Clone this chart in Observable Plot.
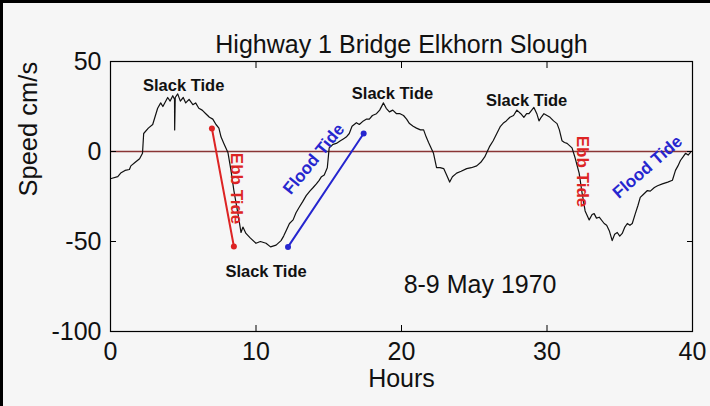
<!DOCTYPE html>
<html>
<head>
<meta charset="utf-8">
<script src="https://cdn.jsdelivr.net/npm/d3@7"></script>
<script src="https://cdn.jsdelivr.net/npm/@observablehq/plot@0.6"></script>
<style>
  html, body { margin: 0; padding: 0; background: #f6f6f6; overflow: hidden; width: 100%; height: 100%; }
  #wrap { position: fixed; left: 0; top: 0; right: 0; bottom: 0; overflow: hidden; background: #f6f6f6; }
  #wrap svg { display: block; position: absolute; left: 0; top: 0; }
  #border { position: absolute; left: 0; top: 0; right: 0; bottom: 0; box-sizing: border-box;
            border-left: 3px solid #000; border-top: 3px solid #000; pointer-events: none; }
</style>
</head>
<body>
<div id="wrap"><div id="border"></div></div>
<script>
// ---- Data ----
const hours = [0.05,0.5,0.7,1.0,1.3,1.4,1.7,2.0,2.2,2.28,2.6,2.9,3.24,3.45,3.6,3.93,4.1,4.28,4.4,4.41,4.45,4.62,4.8,5.0,5.17,5.4,5.66,5.85,6.07,6.3,6.55,6.8,7.03,7.25,7.45,7.6,7.79,8.07,8.28,8.48,8.76,8.97,9.1,9.31,9.6,10.0,10.3,10.69,11.0,11.38,11.72,11.9,12.07,12.3,12.55,12.75,12.97,13.2,13.45,13.7,13.93,14.15,14.34,14.5,14.69,14.9,15.03,15.3,15.52,15.8,16.0,16.2,16.41,16.6,16.9,17.1,17.38,17.6,17.79,18.0,18.28,18.5,18.76,18.95,19.17,19.4,19.66,19.9,20.14,20.35,20.55,20.8,21.03,21.3,21.52,21.7,21.86,22.2,22.41,22.65,22.9,23.1,23.31,23.5,23.79,24.1,24.48,24.8,25.17,25.45,25.72,26.07,26.3,26.55,26.8,27.03,27.2,27.45,27.7,27.93,28.2,28.41,28.6,28.76,28.95,29.1,29.3,29.45,29.6,29.79,30.0,30.21,30.45,30.69,30.85,31.03,31.2,31.38,31.72,31.93,32.21,32.41,32.62,32.9,33.1,33.24,33.4,33.59,33.93,34.1,34.28,34.48,34.65,34.83,35.0,35.17,35.35,35.52,35.7,35.86,36.07,36.25,36.41,36.6,36.9,37.1,37.38,37.6,37.93,38.3,38.62,38.83,39.0,39.17,39.35,39.52,39.7,39.86];
const speed = [-15,-14,-12,-10.5,-10,-8,-6,-4,-1,10,13,15,24,27,25,30,28,31,29,12,30,32,28,30,27,29,26,27,24,23,21,19,18,15,13,8,4.5,-0.5,-10.5,-21.7,-34.5,-45,-42,-45.5,-48,-51,-50,-51,-53,-52,-49.5,-47,-44,-40,-38,-34,-31,-28,-24.5,-22,-20,-18,-16,-14,-13,-9,2,4,4.5,6,7,8,10,14,16,15,17,18,18,20,21,23,27,24,22,23,21,21,20,18,15.5,14,13,12,12,8,5,-1,-9,-9,-9.5,-13,-17,-14,-12,-11,-9.5,-9,-8,-6,-3,3,6,10,14,16,17,19,20,23,21,19,21,21,23,24.5,21,17,19,21,20,19,17,15.5,12,6,5,4.5,2,-3.5,-12,-23,-33,-38,-35,-34.5,-37,-36.5,-40,-41,-44,-49.5,-46,-45,-47,-45.5,-42,-40,-41,-40,-34.5,-30,-25.5,-24,-21.7,-22,-20,-19,-18,-17,-16,-10.5,-8,-5,-3,-1,-2,-0.5];

const xTicks = [0, 10, 20, 30, 40];
const yTicks = [-100, -50, 0, 50];

const ebbHours = [6.97, 8.48];
const ebbSpeed = [12.8, -52.8];
const floodHours = [12.2, 17.4];
const floodSpeed = [-53, 10];

const slackLabel = "Slack Tide";
const slackHours = [5.03, 19.38, 28.6, 10.69];
const slackSpeed = [36.7, 32.2, 28.3, -66.7];

const ebbLabel = "Ebb Tide";
const ebbLabelHours = [8.69, 32.41];
const ebbLabelSpeed = [-20.6, -11.1];

const floodLabel = "Flood Tide";
const floodLabelHours = [13.97, 36.9];
const floodLabelSpeed = [-4.2, -8.6];
const floodLabelAngle = [-50.6, -41];

const dateLabel = "8-9 May 1970";
const dateHours = 25.4, dateSpeed = -73.9;

const title = "Highway 1 Bridge Elkhorn Slough";
const xLabel = "Hours";
const yLabel = "Speed cm/s";

// ---- Build tables ----
const curve = hours.map((h, i) => ({h, s: speed[i]}));
const ebb = ebbHours.map((h, i) => ({h, s: ebbSpeed[i]}));
const flood = floodHours.map((h, i) => ({h, s: floodSpeed[i]}));
const slack = slackHours.map((h, i) => ({h, s: slackSpeed[i], t: slackLabel}));
const ebbLab = ebbLabelHours.map((h, i) => ({h, s: ebbLabelSpeed[i], t: ebbLabel}));
const floodLab = floodLabelHours.map((h, i) => ({h, s: floodLabelSpeed[i], t: floodLabel, a: floodLabelAngle[i]}));

const RED = "#dd2424";
const BLUE = "#2626cf";
const ZERO = "#8a3535";
const FONT = "Liberation Sans, Arial, Helvetica, sans-serif";
const fmt = d => String(d);

const chart = Plot.plot({
  width: 710,
  height: 406,
  marginLeft: 110,
  marginRight: 18,
  marginTop: 61,
  marginBottom: 75,
  style: {background: "transparent", fontFamily: FONT, color: "#111"},
  x: {domain: [0, 40]},
  y: {domain: [-100, 50]},
  marks: [
    Plot.ruleY([0], {stroke: ZERO, strokeWidth: 1.3}),
    Plot.line(curve, {x: "h", y: "s", stroke: "#111", strokeWidth: 1.2}),
    Plot.line(ebb, {x: "h", y: "s", stroke: RED, strokeWidth: 2}),
    Plot.dot(ebb, {x: "h", y: "s", fill: RED, r: 3}),
    Plot.line(flood, {x: "h", y: "s", stroke: BLUE, strokeWidth: 2}),
    Plot.dot(flood, {x: "h", y: "s", fill: BLUE, r: 3}),
    Plot.text(slack, {x: "h", y: "s", text: "t", fontSize: 16.5, fontWeight: "bold", fill: "#111"}),
    Plot.text(ebbLab, {x: "h", y: "s", text: "t", fontSize: 17, fontWeight: "bold", fill: RED, rotate: 90}),
    Plot.text(floodLab, {x: "h", y: "s", text: "t", fontSize: 17, fontWeight: "bold", fill: BLUE, rotate: d => d.a}),
    Plot.text([dateLabel], {x: () => dateHours, y: () => dateSpeed, text: d => d, fontSize: 25, fill: "#111"}),
    Plot.frame({stroke: "#000", strokeWidth: 1.2}),
    // inward ticks on all four sides
    Plot.axisX(xTicks, {anchor: "bottom", tickSize: -6, tickFormat: () => "", label: null, stroke: "#000"}),
    Plot.axisX(xTicks, {anchor: "top", tickSize: -6, tickFormat: () => "", label: null, stroke: "#000"}),
    Plot.axisY(yTicks, {anchor: "left", tickSize: -6, tickFormat: () => "", label: null, stroke: "#000"}),
    Plot.axisY(yTicks, {anchor: "right", tickSize: -6, tickFormat: () => "", label: null, stroke: "#000"}),
    // tick labels
    Plot.axisX(xTicks, {anchor: "bottom", tickSize: 0, tickPadding: 11, fontSize: 25, label: null, fill: "#111", tickFormat: fmt}),
    Plot.axisY(yTicks, {anchor: "left", tickSize: 0, tickPadding: 9, fontSize: 25, label: null, fill: "#111", tickFormat: fmt}),
    // titles
    Plot.text([title], {frameAnchor: "top", dy: -26, fontSize: 25, fill: "#111"}),
    Plot.text([xLabel], {frameAnchor: "bottom", dy: 55, fontSize: 25, fill: "#111"}),
    Plot.text([yLabel], {frameAnchor: "left", dx: -82, rotate: -90, fontSize: 25.5, fill: "#111"})
  ]
});
document.getElementById("wrap").insertBefore(chart, document.getElementById("border"));
</script>
</body>
</html>
